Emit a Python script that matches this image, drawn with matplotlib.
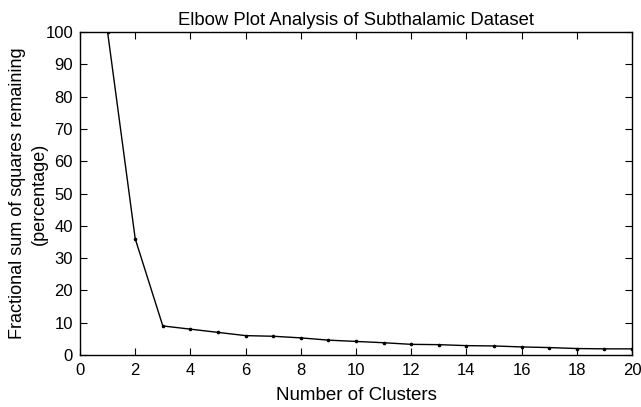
import matplotlib
matplotlib.use("Agg")
import matplotlib.pyplot as plt

# 데이터
clusters = list(range(1, 21))
remaining = [100, 36, 9, 8, 7, 6, 5.8, 5.3, 4.6, 4.2, 3.8, 3.3, 3.2, 2.9, 2.8, 2.5, 2.3, 2.0, 1.9, 1.9]
x_ticks = list(range(0, 21, 2))
y_ticks = list(range(0, 101, 10))

plt.rcParams['font.family'] = ['Liberation Sans', 'DejaVu Sans']
fig = plt.figure(figsize=(6.41, 4.07), dpi=100)
ax = fig.add_axes([80 / 641, 1 - 355 / 407, (632 - 80) / 641, (355 - 32) / 407])

ax.plot(clusters, remaining, color='black', linewidth=1.0, marker='o', markersize=1.6)

ax.set_xlim(0, 20)
ax.set_ylim(0, 100)
ax.set_xticks(x_ticks)
ax.set_yticks(y_ticks)
ax.tick_params(direction='in', top=True, right=True, length=5, width=0.8, labelsize=12)
ax.tick_params(axis='x', pad=6)
ax.tick_params(axis='y', pad=5)
for s in ax.spines.values():
    s.set_linewidth(1.0)

ax.set_title("Elbow Plot Analysis of Subthalamic Dataset", fontsize=13.3, pad=5)
ax.set_xlabel("Number of Clusters", fontsize=13.5, labelpad=6)
ax.set_ylabel("Fractional sum of squares remaining\n(percentage)", fontsize=13, linespacing=1.35, labelpad=-1.5)

fig.savefig("out.png", dpi=100)
